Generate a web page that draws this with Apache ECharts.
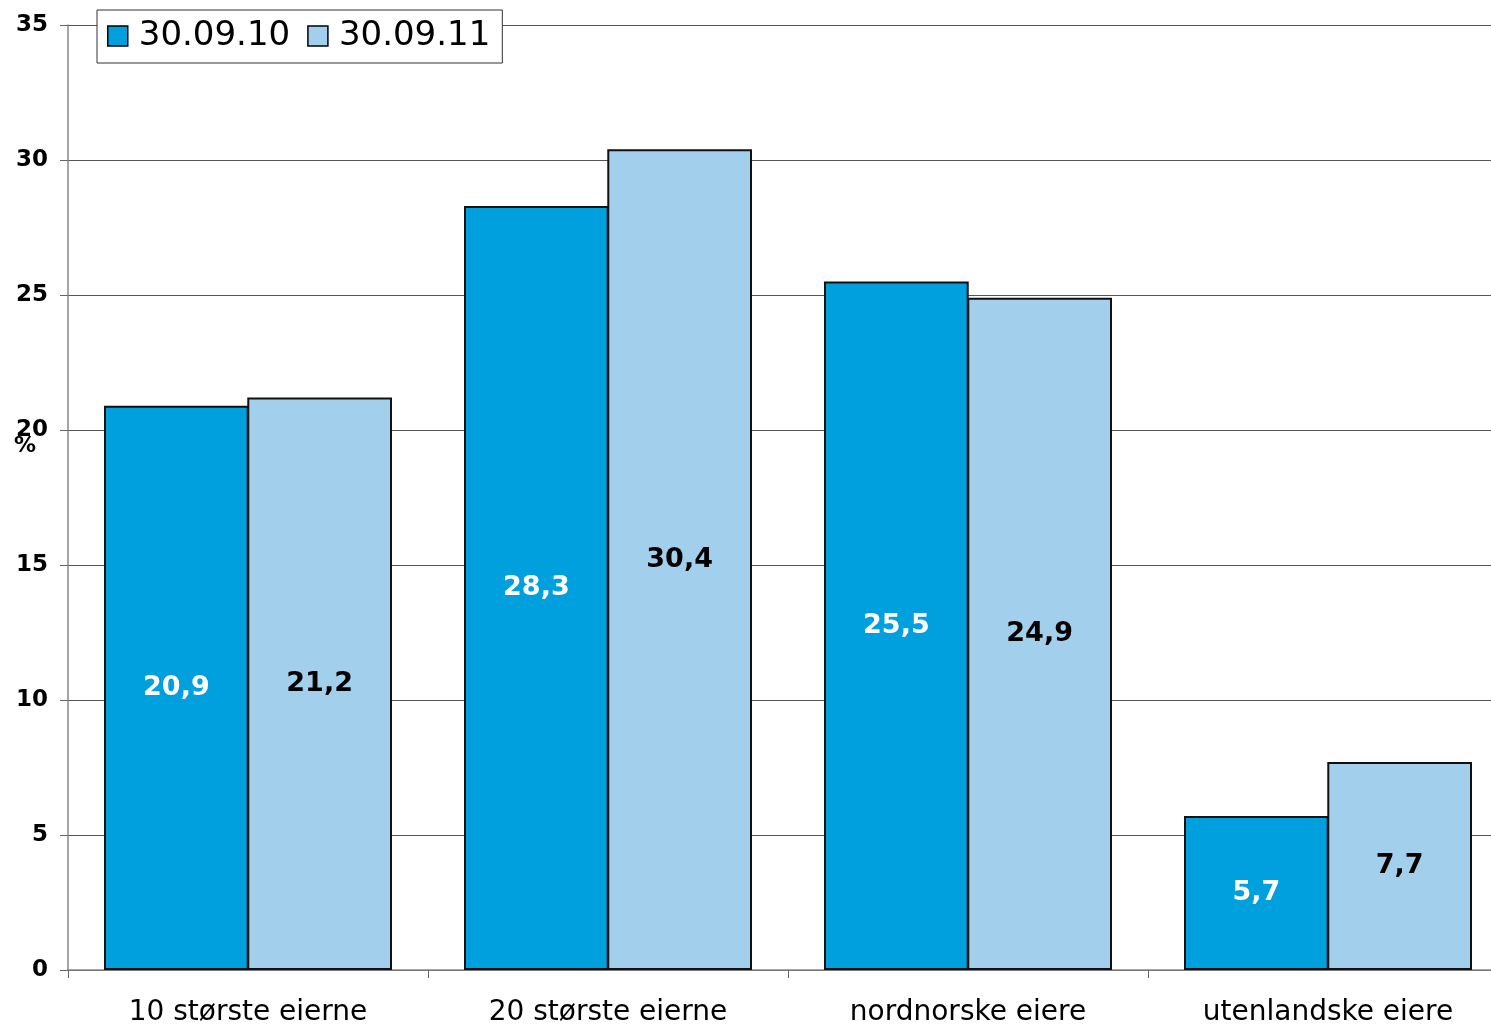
<!DOCTYPE html>
<html>
<head>
<meta charset="utf-8">
<script src="https://cdn.jsdelivr.net/npm/echarts@6/dist/echarts.min.js"></script>
<style>
  html, body { margin: 0; padding: 0; background: #fff; overflow: hidden; }
  /* drawing surface is a little wider than the window: the plot runs past the right edge */
  #chart { width: 1510px; height: 1028px; }
</style>
</head>
<body>
<div id="chart"></div>
<script>
// Eierandeler i prosent
const categories = ['10 største eierne', '20 største eierne', 'nordnorske eiere', 'utenlandske eiere'];
const seriesNames = ['30.09.10', '30.09.11'];
const values2010 = [20.9, 28.3, 25.5, 5.7];
const values2011 = [21.2, 30.4, 24.9, 7.7];
const yTicks = [0, 5, 10, 15, 20, 25, 30, 35];

const FONT = '"DejaVu Sans", Verdana, sans-serif';
const fmt = p => String(p.value).replace('.', ',');

const chart = echarts.init(document.getElementById('chart'));
chart.setOption({
  animation: false,
  backgroundColor: '#fff',
  textStyle: { fontFamily: FONT },
  grid: { left: 68, right: 2, top: 25, bottom: 58, containLabel: false, outerBoundsMode: 'none' },
  legend: {
    left: 97, top: 10,
    data: seriesNames,
    itemWidth: 20, itemHeight: 20, itemGap: 17,
    padding: [9, 12, 10, 10],
    backgroundColor: '#fff',
    borderColor: '#333', borderWidth: 1, borderRadius: 0,
    icon: 'rect',
    itemStyle: { borderColor: '#000', borderWidth: 1.5 },
    textStyle: { fontSize: 34, color: '#000', fontFamily: FONT, padding: [0, 0, 0, 6] }
  },
  xAxis: {
    type: 'category',
    data: categories,
    axisLine: { show: true, lineStyle: { color: '#888', width: 1.5 } },
    axisTick: { show: true, length: 8, lineStyle: { color: '#666' } },
    axisLabel: { fontSize: 28, color: '#000', margin: 29, fontFamily: FONT }
  },
  yAxis: {
    type: 'value',
    min: 0, max: 35, interval: 5,
    axisLine: { show: true, lineStyle: { color: '#888', width: 1.5 } },
    axisTick: { show: true, inside: false, length: 8, lineStyle: { color: '#666' } },
    axisLabel: { fontSize: 23, fontWeight: 'bold', color: '#000', margin: 20, fontFamily: FONT,
      formatter: v => yTicks.includes(v) ? String(v) : '' },
    splitLine: { show: true, lineStyle: { color: '#555', width: 1 } }
  },
  graphic: [{
    type: 'text', left: 14, top: 435,
    style: { text: '%', font: 'bold 22px ' + FONT, fill: '#000' }
  }],
  series: [
    {
      name: seriesNames[0], type: 'bar', data: values2010,
      barGap: '-1%', barCategoryGap: '20%',
      itemStyle: { color: '#00a0df', borderColor: '#111', borderWidth: 2 },
      label: { show: true, position: 'inside', formatter: fmt,
        fontSize: 27, fontWeight: 'bold', color: '#fff', fontFamily: FONT }
    },
    {
      name: seriesNames[1], type: 'bar', data: values2011,
      barGap: '-1%', barCategoryGap: '20%',
      itemStyle: { color: '#a2cfeb', borderColor: '#111', borderWidth: 2 },
      label: { show: true, position: 'inside', formatter: fmt,
        fontSize: 27, fontWeight: 'bold', color: '#000', fontFamily: FONT }
    }
  ]
});
</script>
</body>
</html>
